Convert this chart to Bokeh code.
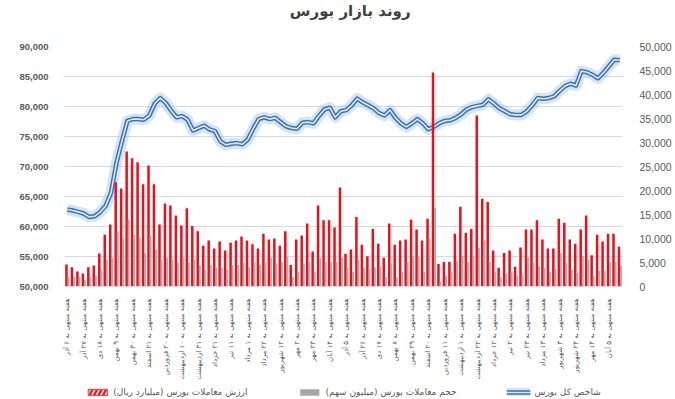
from bokeh.plotting import figure
from bokeh.models import (Range1d, LinearAxis, FixedTicker, NumeralTickFormatter,
                          Legend, LegendItem, ColumnDataSource, Label)
from bokeh.layouts import column
from bokeh.embed import file_html
from bokeh.resources import INLINE
import math

weeks = list(range(1, 103))

index_values = [
    62830, 62670, 62440, 62170, 61600, 61700, 62400, 63400, 65600, 70600,
    74200, 77600, 77900, 77900, 77800, 78500, 80500, 81400, 80600, 79300,
    78200, 78400, 77800, 76000, 76400, 76800, 76200, 75900, 74200, 73600,
    73800, 73900, 73700, 74500, 76300, 77900, 78200, 77900, 78100, 77400,
    76700, 76400, 76300, 77300, 77400, 77200, 78400, 79500, 79800, 78200,
    79200, 79400, 80200, 81300, 80700, 80200, 79700, 78900, 78500, 79400,
    78100, 77200, 76600, 77200, 77900, 77200, 76200, 76600, 77200, 77600,
    77700, 78100, 78700, 79500, 79900, 80100, 80300, 81200, 80500, 79700,
    79200, 78700, 78600, 78600, 79200, 80200, 81400, 81300, 81400, 81700,
    82600, 83400, 83800, 83500, 85900, 85700, 85300, 84700, 85600, 86700,
    87800, 87700,
]

trade_value = [
    4600, 4000, 3100, 2700, 4000, 4400, 6900, 10800, 12900, 21700,
    20400, 28100, 26700, 25900, 21300, 25200, 21300, 12900, 17300, 16900,
    14800, 12700, 16300, 12600, 11500, 8500, 9600, 7900, 9400, 7500,
    9100, 9600, 10400, 9600, 8800, 7900, 11000, 9800, 10000, 8500,
    11500, 4500, 9800, 10600, 13100, 7300, 16900, 13800, 13800, 12300,
    20600, 6800, 7700, 14500, 8700, 6300, 12000, 8900, 6000, 13100,
    8700, 9600, 9800, 13900, 11900, 9600, 14100, 44600, 4700, 5100,
    5100, 11000, 16600, 11200, 12000, 35600, 18300, 17600, 7500, 3900,
    7000, 7500, 4100, 8100, 11900, 11900, 13800, 9800, 7900, 7900,
    14100, 13300, 9800, 8900, 11900, 14800, 6500, 10800, 9400, 11000,
    11000, 8300,
]

trade_volume = [
    2000, 2100, 2000, 1400, 2000, 2300, 3500, 5500, 6000, 11500,
    10000, 14000, 10800, 10300, 7000, 10700, 7600, 5500, 6000, 5500,
    5000, 6000, 5000, 5500, 4500, 3500, 4500, 4000, 4000, 3500,
    4500, 4500, 5000, 4000, 5100, 4600, 5100, 6000, 4800, 5100,
    6200, 2000, 3000, 4800, 5200, 3000, 6000, 5100, 5100, 5100,
    6000, 4000, 3000, 5500, 4000, 3600, 4000, 4200, 2000, 4800,
    2000, 3000, 5100, 6300, 6200, 3000, 9900, 16400, 1000, 2300,
    3000, 5300, 6300, 5100, 6300, 8000, 9600, 5100, 3000, 2000,
    2700, 3000, 2300, 2500, 6000, 5000, 4200, 3900, 3000, 3700,
    7000, 5000, 3600, 2800, 6400, 5600, 2300, 3300, 3300, 5100,
    5100, 4400,
]

tick_labels = [
    "هفته منتهی به ۶ آذر", "هفته منتهی به ۲۷ آذر", "هفته منتهی به ۱۸ دی",
    "هفته منتهی به ۹ بهمن", "هفته منتهی به ۳۰ بهمن", "هفته منتهی به ۲۱ اسفند",
    "هفته منتهی به ۲۰ فروردین", "هفته منتهی به ۱۰ اردیبهشت", "هفته منتهی به ۳۱ اردیبهشت",
    "هفته منتهی به ۲۱ خرداد", "هفته منتهی به ۱۱ تیر", "هفته منتهی به ۱ مرداد",
    "هفته منتهی به ۲۲ مرداد", "هفته منتهی به ۱۲ شهریور", "هفته منتهی به ۲ مهر",
    "هفته منتهی به ۲۳ مهر", "هفته منتهی به ۱۴ آبان", "هفته منتهی به ۵ آذر",
    "هفته منتهی به ۲۶ آذر", "هفته منتهی به ۱۷ دی", "هفته منتهی به ۸ بهمن",
    "هفته منتهی به ۲۹ بهمن", "هفته منتهی به ۲۰ اسفند", "هفته منتهی به ۱۱ فروردین",
    "هفته منتهی به ۱ اردیبهشت", "هفته منتهی به ۲۲ اردیبهشت", "هفته منتهی به ۱۲ خرداد",
    "هفته منتهی به ۲ تیر", "هفته منتهی به ۲۳ تیر", "هفته منتهی به ۱۳ مرداد",
    "هفته منتهی به ۳ شهریور", "هفته منتهی به ۲۴ شهریور", "هفته منتهی به ۱۴ مهر",
    "هفته منتهی به ۵ آبان",
]
tick_positions = weeks[::3]

series_names = ["ارزش معاملات بورس (میلیارد ریال)",
                "حجم معاملات بورس (میلیون سهم)",
                "شاخص کل بورس"]
title_text = "روند بازار بورس"

FONT = "DejaVu Sans"
TXT = "#595959"
RED = "#e8101a"
GRAY = "#a6a6a6"
GLOW = dict(line_color="#9dc3e6", line_width=11, line_alpha=0.45, line_join="round")
OUTER = dict(line_color="#3a6fb0", line_width=4.5, line_join="round")
INNER = dict(line_color="#dbe8f6", line_width=1.6, line_join="round")
HATCH = dict(fill_color="white", line_color="#c0504d",
             hatch_pattern="right_diagonal_line", hatch_color=RED,
             hatch_weight=2.5, hatch_scale=9)
W = 674

# ---- title strip ----
tf = figure(width=W, height=20, output_backend="svg", toolbar_location=None,
            x_range=Range1d(0, 1), y_range=Range1d(0, 1),
            x_axis_location=None, y_axis_location=None, min_border=0)
tf.outline_line_color = None
tf.grid.visible = False
tf.add_layout(Label(x=0.512, y=0.5, text=title_text, text_align="center",
                    text_baseline="middle", text_font=FONT, text_font_size="15px",
                    text_font_style="bold", text_color="#404040"))

# ---- main chart ----
src = ColumnDataSource(dict(
    week=weeks,
    week_red=[w - 0.14 for w in weeks],
    week_gray=[w + 0.24 for w in weeks],
    index=index_values,
    value=trade_value,
    volume=trade_volume,
))

p = figure(width=W, height=365, output_backend="svg", toolbar_location=None,
           x_range=Range1d(0.5, 102.5), y_range=Range1d(50000, 90000),
           min_border_left=64, min_border_right=49, min_border_top=26,
           min_border_bottom=99)
p.extra_y_ranges = {"vol": Range1d(0, 50000)}
p.outline_line_color = None
p.background_fill_color = "white"

p.xgrid.visible = False
p.ygrid.grid_line_color = "#d9d9d9"
p.ygrid.ticker = FixedTicker(ticks=list(range(50000, 90001, 5000)))

xa = p.xaxis[0]
xa.ticker = FixedTicker(ticks=tick_positions)
xa.major_label_overrides = {t: l for t, l in zip(tick_positions, tick_labels)}
xa.major_label_orientation = math.pi / 2
xa.major_label_text_font = FONT
xa.major_label_text_font_size = "7px"
xa.major_label_text_color = TXT
xa.major_tick_line_color = None
xa.minor_tick_line_color = None
xa.axis_line_color = "#d9d9d9"
xa.major_label_standoff = 6

ya = p.yaxis[0]
ya.ticker = FixedTicker(ticks=list(range(50000, 90001, 5000)))
ya.formatter = NumeralTickFormatter(format="0,0")
ya.major_label_text_font = "Liberation Sans"
ya.major_label_text_font_size = "9.5px"
ya.major_label_text_font_style = "bold"
ya.major_label_text_color = TXT
ya.axis_line_color = None
ya.major_tick_line_color = None
ya.minor_tick_line_color = None
ya.major_label_standoff = 10

ra = LinearAxis(y_range_name="vol",
                ticker=FixedTicker(ticks=list(range(0, 50001, 5000))),
                formatter=NumeralTickFormatter(format="0,0"))
ra.major_label_text_font = "Liberation Sans"
ra.major_label_text_font_size = "10.5px"
ra.major_label_text_color = TXT
ra.axis_line_color = None
ra.major_tick_line_color = None
ra.minor_tick_line_color = None
ra.major_label_standoff = 11
p.add_layout(ra, "right")

p.line("week", "index", source=src, **GLOW)
p.line("week", "index", source=src, **OUTER)
p.line("week", "index", source=src, **INNER)

p.vbar(x="week_red", top="value", width=0.46, bottom=0, source=src,
       y_range_name="vol", fill_color=RED, line_color=None)
p.vbar(x="week_gray", top="volume", width=0.36, bottom=0, source=src,
       y_range_name="vol", fill_color=GRAY, fill_alpha=0.9, line_color=None)

# ---- legend strip (zero-size glyphs, used only for the legend swatches) ----
lf = figure(width=W, height=14, output_backend="svg", toolbar_location=None,
            x_range=Range1d(0, 1), y_range=Range1d(0, 1),
            x_axis_location=None, y_axis_location=None, min_border=0)
lf.outline_line_color = None
lf.grid.visible = False
lr1 = lf.vbar(x=[0.5], top=[0], bottom=[0], width=0.0, **HATCH)
lr2 = lf.vbar(x=[0.5], top=[0], bottom=[0], width=0.0, fill_color=GRAY, line_color=None)
lr3a = lf.line(x=[0.5, 0.5], y=[0, 0], **GLOW)
lr3b = lf.line(x=[0.5, 0.5], y=[0, 0], **OUTER)
lr3c = lf.line(x=[0.5, 0.5], y=[0, 0], **INNER)

legend = Legend(items=[
    LegendItem(label=series_names[0], renderers=[lr1]),
    LegendItem(label=series_names[1], renderers=[lr2]),
    LegendItem(label=series_names[2], renderers=[lr3a, lr3b, lr3c]),
], orientation="horizontal", location="center")
legend.label_text_font = FONT
legend.label_text_font_size = "9px"
legend.label_text_color = TXT
legend.label_height = 10
legend.glyph_width = 24
legend.glyph_height = 8
legend.spacing = 50
legend.label_standoff = 4
legend.padding = 0
legend.margin = 0
legend.background_fill_alpha = 0
legend.border_line_alpha = 0
lf.add_layout(legend, "center")

layout = column(tf, p, lf, spacing=0)
open("out.html", "w").write(file_html(layout, INLINE))
